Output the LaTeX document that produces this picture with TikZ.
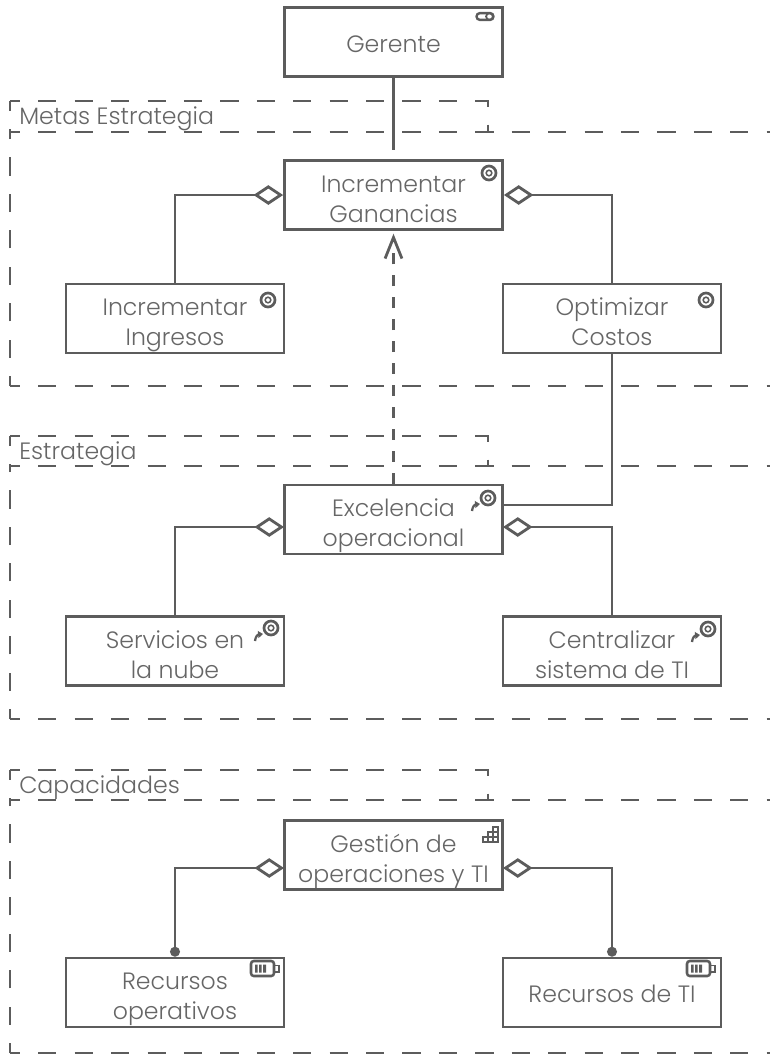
\documentclass[tikz,border=0pt]{standalone}
\usepackage{fontspec}
\setmainfont{Poppins Light}
\usepackage{tikz}
\usetikzlibrary{arrows.meta}

\definecolor{archi}{HTML}{5C5C5C}
\definecolor{archtext}{HTML}{666666}

\tikzset{
	targeticon/.pic={
		\draw [archi, line width=1.9pt] (0,0) circle [radius=7];
		\draw [archi, line width=1.1pt] (0,0) circle [radius=2.8];
	},
	courseicon/.pic={
		\draw [archi, line width=1.9pt] (0,0) circle [radius=7];
		\draw [archi, line width=1.1pt] (0,0) circle [radius=2.8];
		\draw [archi, line width=1.6pt, -{Triangle[length=3.5pt, width=5pt]}] (-16,13) .. controls (-15.5,8) and (-13,6.5) .. (-8,6);
	},
	roleicon/.pic={
		\draw [archi, line width=1.7pt, rounded corners=2.4pt] (-8.5,-3.4) rectangle (8.5,3.4);
		\draw [archi, line width=1.3pt] (4.5,0) circle [radius=3.4];
	},
	capabilityicon/.pic={
		\draw [archi, line width=1.2pt] (0,10) rectangle (5,5) (5,10) rectangle (10,5) (10,10) rectangle (15,5)
			(5,5) rectangle (10,0) (10,5) rectangle (15,0) (10,0) rectangle (15,-5);
	},
	batteryicon/.pic={
		\draw [archi, line width=1.8pt, rounded corners=2pt] (0,0) rectangle (23,15);
		\draw [archi, line width=1.1pt] (23,4.5) rectangle (28,11);
		\fill [archi] (4,3.5) rectangle (6.5,11.5) (8,3.5) rectangle (10.5,11.5) (12,3.5) rectangle (15,11.5);
	}
}

\begin{document}
\begin{tikzpicture}[
		x=0.025cm, y=-0.025cm,
		every node/.style={text=archtext, font=\fontsize{16.8}{21.3}\selectfont},
		archbox/.style={rectangle, draw=archi, line width=2pt, minimum width=155pt, minimum height=49pt, inner sep=0pt, align=center, text height=38.4pt, text depth=0pt},
		onelinebox/.style={archbox, text height=14.6pt},
		grouplabel/.style={anchor=base west, inner sep=0pt},
		groupline/.style={draw=archi, line width=2pt, dash pattern=on 12.95pt off 12.95pt, dash phase=5.8pt},
		link/.style={draw=archi, line width=2pt},
		aggregation/.style={link, -{Diamond[open, length=21pt, width=14pt]}},
		dotlink/.style={aggregation, {Circle[length=7pt]}-{Diamond[open, length=21pt, width=14pt]}},
		realization/.style={link, dash pattern=on 7.8pt off 7.8pt, -{Straight Barb[length=15pt, width=12pt]}}
	]
  \useasboundingbox (0,0) rectangle (770,1055);

  \draw [groupline] (10,101) -- (10,132);
  \draw [groupline] (10,101) -- (488,101) -- (488,132);
  \draw [groupline] (10,132) -- (770,132);
  \draw [groupline] (10,386) -- (10,132);
  \draw [groupline] (10,386) -- (770,386);
  \draw [groupline] (10,436) -- (10,466);
  \draw [groupline] (10,436) -- (488,436) -- (488,466);
  \draw [groupline] (10,466) -- (770,466);
  \draw [groupline] (10,719) -- (10,466);
  \draw [groupline] (10,719) -- (770,719);
  \draw [groupline] (10,770) -- (10,800);
  \draw [groupline] (10,770) -- (488,770) -- (488,800);
  \draw [groupline] (10,800) -- (770,800);
  \draw [groupline] (10,1053) -- (10,800);
  \draw [groupline] (10,1053) -- (770,1053);

  \node (metas_label) [grouplabel] at (19,124) {Metas Estrategia};
  \node (estrategia_label) [grouplabel] at (19,459) {Estrategia};
  \node (capacidades_label) [grouplabel] at (19,793) {Capacidades};

  \node (gerente) [onelinebox] at (393.5,42) {Gerente};
  \node (ganancias) [archbox] at (393.5,195) {Incrementar\\Ganancias};
  \node (ingresos) [archbox] at (175,318.5) {Incrementar\\Ingresos};
  \node (costos) [archbox] at (612,318.5) {Optimizar\\Costos};
  \node (excelencia) [archbox] at (393.5,519.5) {Excelencia\\operacional};
  \node (servicios) [archbox] at (175,651) {Servicios en\\la nube};
  \node (centralizar) [archbox] at (612,651) {Centralizar\\sistema de TI};
  \node (gestion) [archbox] at (393.5,855) {Gestión de\\operaciones y TI};
  \node (rec_operativos) [archbox] at (175,992.5) {Recursos\\operativos};
  \node (rec_ti) [onelinebox] at (612,992.5) {Recursos de TI};

  \coordinate (gerente_end) at (393.5,150);
  \coordinate (costos_end) at (503,505);
  \coordinate (excelencia_left) at (284,527);
  \coordinate (excelencia_right) at (503,527);
  \coordinate (gestion_left) at (284,868);
  \coordinate (gestion_right) at (503,868);

  \draw [link] (gerente) -- (gerente_end);
  \draw [aggregation] (ingresos.north) |- (ganancias.west);
  \draw [aggregation] (costos.north) |- (ganancias.east);
  \draw [realization, shorten >=2pt] (excelencia) -- (ganancias);
  \draw [link] (costos.south) |- (costos_end);
  \draw [aggregation] (servicios.north) |- (excelencia_left);
  \draw [aggregation] (centralizar.north) |- (excelencia_right);
  \draw [dotlink] (rec_operativos.north) |- (gestion_left);
  \draw [dotlink] (rec_ti.north) |- (gestion_right);

  \pic at (485,16.5) {roleicon};
  \pic at (489,173) {targeticon};
  \pic at (268,300) {targeticon};
  \pic at (706,300) {targeticon};
  \pic at (488,498) {courseicon};
  \pic at (271,628) {courseicon};
  \pic at (708,629) {courseicon};
  \pic at (483,832) {capabilityicon};
  \pic at (251,961) {batteryicon};
  \pic at (687,961) {batteryicon};
\end{tikzpicture}
\end{document}
